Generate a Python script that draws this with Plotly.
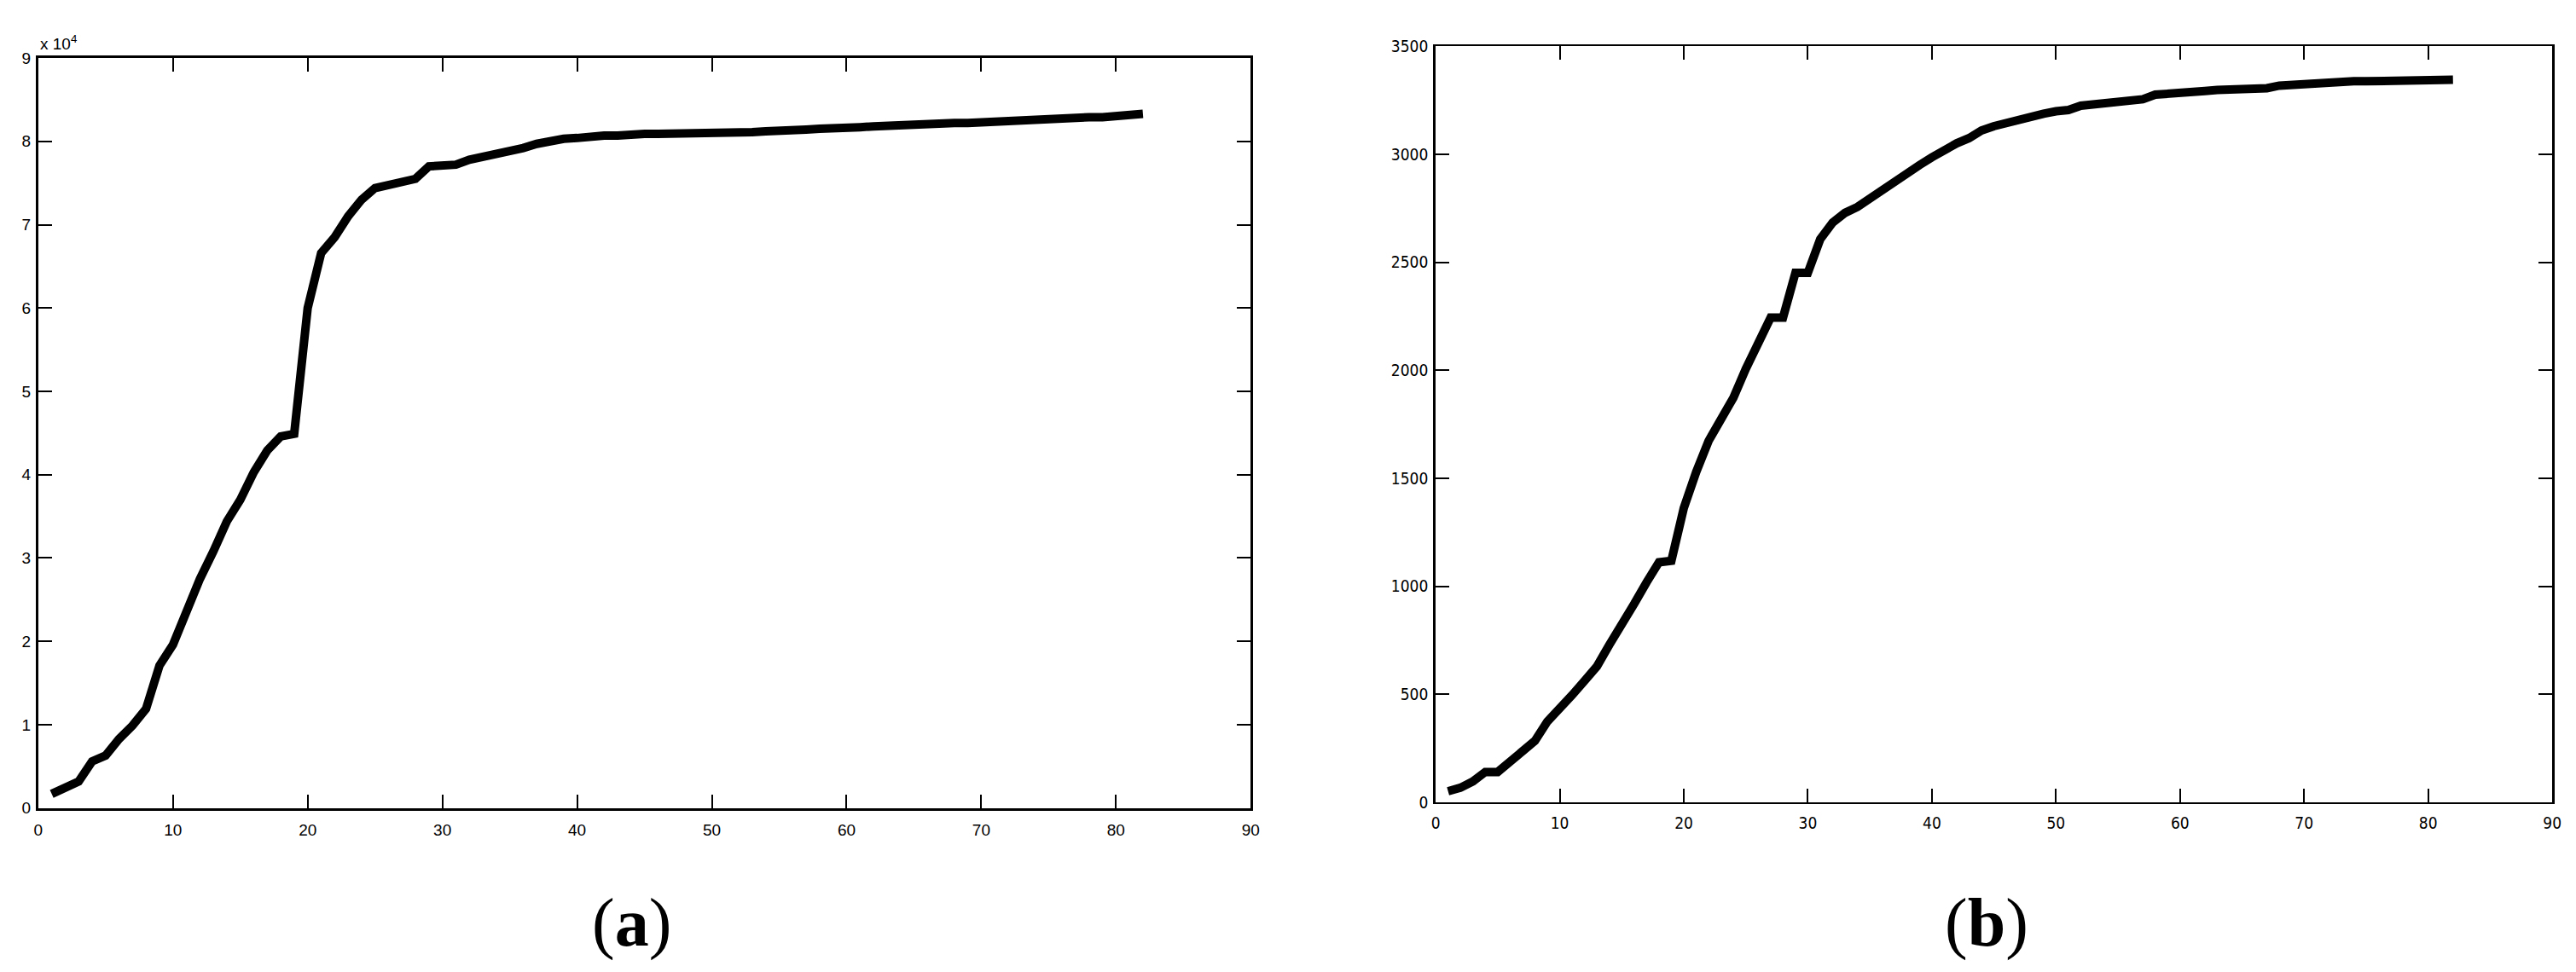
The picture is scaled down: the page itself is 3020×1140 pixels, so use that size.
import plotly.graph_objects as go

W, H = 3020, 1140

# ---- data ----
x_a = list(range(1, 83))
y_a = [0.17, 0.24, 0.32, 0.56, 0.63, 0.83, 0.99, 1.19, 1.71, 1.96,
       2.37, 2.75, 3.08, 3.44, 3.70, 4.03, 4.29, 4.46, 4.49, 6.00,
       6.66, 6.85, 7.10, 7.30, 7.44, 7.48, 7.51, 7.55, 7.70, 7.70,
       7.72, 7.78, 7.81, 7.85, 7.88, 7.92, 7.97, 8.01, 8.03, 8.04,
       8.06, 8.07, 8.07, 8.09, 8.09, 8.09, 8.09, 8.09, 8.11, 8.11,
       8.11, 8.11, 8.11, 8.12, 8.12, 8.12, 8.14, 8.15, 8.15, 8.16,
       8.17, 8.18, 8.19, 8.19, 8.20, 8.21, 8.21, 8.22, 8.22, 8.23,
       8.24, 8.25, 8.25, 8.26, 8.26, 8.27, 8.28, 8.29, 8.29, 8.30,
       8.32, 8.33]
y_a = [v * 1e4 for v in y_a]

x_b = list(range(1, 83))
y_b = [51, 67, 96, 140, 140, 184, 229, 284, 373, 429,
       496, 562, 629, 729, 818, 918, 1018, 1111, 1118, 1362,
       1529, 1673, 1773, 1873, 2007, 2129, 2244, 2244, 2451, 2451,
       2607, 2684, 2729, 2756, 2795, 2838, 2875, 2920, 2950, 2986,
       3020, 3051, 3075, 3110, 3130, 3145, 3167, 3175, 3188, 3199,
       3205, 3225, 3232, 3240, 3250, 3252, 3255, 3276, 3278, 3284,
       3290, 3293, 3298, 3300, 3305, 3306, 3306, 3318, 3322, 3330,
       3334, 3337, 3338, 3338, 3338, 3338, 3339, 3344, 3345, 3345,
       3345, 3345]

x_ticks = [0, 10, 20, 30, 40, 50, 60, 70, 80, 90]
ya_ticks = [0, 1e4, 2e4, 3e4, 4e4, 5e4, 6e4, 7e4, 8e4, 9e4]
ya_ticktext = ["0", "1", "2", "3", "4", "5", "6", "7", "8", "9"]
yb_ticks = [0, 500, 1000, 1500, 2000, 2500, 3000, 3500]
panel_labels = ["(<b>a</b>)", "(<b>b</b>)"]

fig = go.Figure()
fig.add_trace(go.Scatter(x=x_a, y=y_a, mode="lines", line=dict(color="black", width=10),
                         xaxis="x", yaxis="y", showlegend=False))
fig.add_trace(go.Scatter(x=x_b, y=y_b, mode="lines", line=dict(color="black", width=10),
                         xaxis="x2", yaxis="y2", showlegend=False))

fa = dict(family="Liberation Sans, Arial, sans-serif", size=19, color="black")
fb = dict(family="Liberation Sans Narrow, DejaVu Sans Condensed, Arial Narrow, sans-serif", size=19, color="black")

def ax(**kw):
    d = dict(showline=True, linecolor="black", mirror="allticks", ticks="inside",
             ticklen=16, tickcolor="black", tickwidth=2, showgrid=False, zeroline=False)
    d.update(kw)
    return d

fig.update_layout(
    width=W, height=H, margin=dict(l=0, r=0, t=0, b=0),
    paper_bgcolor="white", plot_bgcolor="white",
    xaxis=ax(domain=[32 / W, 1461 / W], range=[0, 90], tickvals=x_ticks, anchor="y",
             linewidth=3, tickfont=fa, ticklabelstandoff=6),
    yaxis=ax(domain=[(H - 947) / H, (H - 50) / H], range=[0, 9e4], tickvals=ya_ticks,
             ticktext=ya_ticktext, anchor="x", linewidth=3, tickfont=fa, ticklabelstandoff=2),
    xaxis2=ax(domain=[1679 / W, 2995 / W], range=[0, 90], tickvals=x_ticks, anchor="y2",
              linewidth=2, tickfont=fb, ticklabelstandoff=6),
    yaxis2=ax(domain=[(H - 940) / H, (H - 36) / H], range=[0, 3500], tickvals=yb_ticks,
              anchor="x2", linewidth=3, tickfont=fb, ticklabelstandoff=2),
)

fig.add_annotation(text="x 10<sup>4</sup>", xref="paper", yref="paper",
                   x=32 / W, y=1 - 32 / H, xanchor="left", yanchor="middle",
                   showarrow=False, font=dict(family="Liberation Sans, Arial, sans-serif", size=19, color="black"))

for lbl, cx in zip(panel_labels, [731, 2328]):
    fig.add_annotation(text=lbl, xref="paper", yref="paper", x=cx / W, y=1 - 1084 / H,
                       xanchor="center", yanchor="middle", showarrow=False,
                       font=dict(family="Liberation Serif, Times New Roman, serif", size=80, color="black"))

fig.write_html("out.html")
